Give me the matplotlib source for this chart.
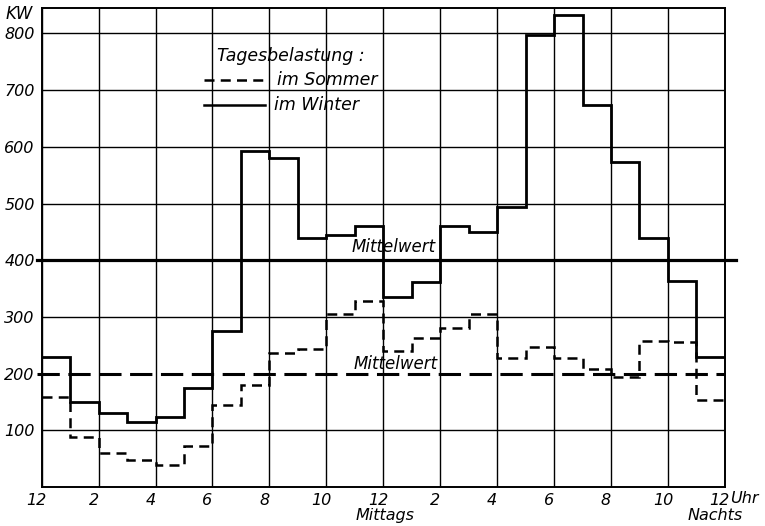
import numpy as np
import matplotlib.pyplot as plt
import matplotlib.transforms as mtransforms

# Tagesbelastung in kW, stündliche Werte (0 = 12 Uhr Nachts)
stunden = np.arange(25)
winter = [230, 150, 130, 114, 124, 175, 275, 593, 580, 439, 445, 461,
          335, 361, 461, 450, 494, 797, 833, 674, 574, 439, 364, 229]
sommer = [158, 89, 60, 48, 39, 73, 144, 180, 237, 244, 306, 329,
          240, 263, 280, 306, 228, 247, 228, 208, 194, 258, 255, 154]
mittel_winter = 400
mittel_sommer = 200

x_ticks = np.arange(0, 25, 2)
x_labels = ['12', '2', '4', '6', '8', '10', '12', '2', '4', '6', '8', '10', '12']
y_ticks = np.arange(100, 900, 100)

fig = plt.figure(figsize=(7.65, 5.26), dpi=100)
ax = fig.add_axes([0.0545, 0.074, 0.893, 0.911])

font = dict(family='DejaVu Sans', style='italic')

ax.stairs(winter, stunden, color='black', lw=2.0, baseline=None)
ax.stairs(sommer, stunden, color='black', lw=1.8, ls=(0, (4, 2.5)), baseline=None)

# Mittelwerte
ax.plot([-0.15, 24.4], [mittel_winter, mittel_winter], color='black', lw=2.3, clip_on=False)
ax.plot([-0.15, 24.0], [mittel_sommer, mittel_sommer], color='black', lw=2.2,
        ls=(0, (7.3, 2.8)), clip_on=False)
ax.text(12.38, mittel_winter + 23, 'Mittelwert', ha='center', va='center', fontsize=12, **font)
ax.text(12.45, mittel_sommer + 17, 'Mittelwert', ha='center', va='center', fontsize=12, **font)

ax.set_xlim(0, 24)
ax.set_ylim(0, 845)
ax.set_xticks(x_ticks)
ax.set_xticklabels(x_labels, fontsize=11.5, **font)
ax.set_yticks(y_ticks)
ax.set_yticklabels([str(v) for v in y_ticks], fontsize=11.5, **font)
ax.tick_params(axis='x', length=0, pad=4)
ax.tick_params(axis='y', length=0, pad=5)
ax.grid(True, color='black', lw=1.0)
ax.set_axisbelow(True)
# keine Gitterlinie unter dem gestrichelten Mittelwert
ax.get_ygridlines()[1].set_visible(False)
for s in ax.spines.values():
    s.set_linewidth(1.4)

# x-Beschriftung etwas nach links wie im Original
shift = mtransforms.ScaledTranslation(-5 / 100, 0, fig.dpi_scale_trans)
for lbl in ax.get_xticklabels():
    lbl.set_transform(lbl.get_transform() + shift)

# Beschriftungen
fig.text(0.007, 0.973, 'KW', fontsize=12, ha='left', va='center', **font)
ax.text(24.2, -20, 'Uhr', ha='left', va='center', fontsize=11.5, clip_on=False, **font)
ax.text(12.05, -50, 'Mittags', ha='center', va='center', fontsize=11.5, clip_on=False, **font)
ax.text(23.65, -50, 'Nachts', ha='center', va='center', fontsize=11.5, clip_on=False, **font)

# Legende
ax.text(6.15, 760, 'Tagesbelastung :', ha='left', va='center', fontsize=12.5, **font)
ax.plot([5.7, 7.85], [718, 718], color='black', lw=1.8, ls=(0, (4, 2.5)))
ax.text(8.25, 718, 'im Sommer', ha='left', va='center', fontsize=12.5, **font)
ax.plot([5.7, 7.85], [674, 674], color='black', lw=1.8)
ax.text(8.15, 674, 'im Winter', ha='left', va='center', fontsize=12.5, **font)

fig.savefig('out.png', dpi=100)
